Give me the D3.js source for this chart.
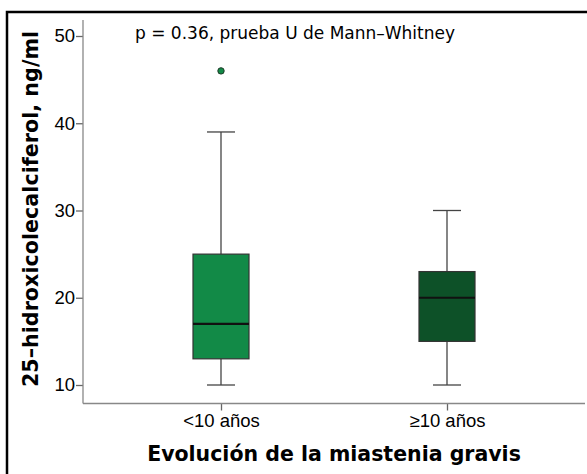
<!DOCTYPE html>
<html>
<head>
<meta charset="utf-8">
<script src="https://cdn.jsdelivr.net/npm/d3@7"></script>
<style>
  html, body { margin: 0; padding: 0; background: #fff; overflow: hidden; }
  svg { display: block; }
</style>
</head>
<body>
<svg id="chart" width="587" height="474"></svg>
<script>
// groups and their box statistics
let groups = ['<10 años', '≥10 años'];
let whiskerLow = [10, 10];
let q1 = [13, 15];
let medians = [17, 20];
let q3 = [25, 23];
let whiskerHigh = [39, 30];
let outliers = [[46], []];
let boxColors = ['#128a47', '#0d5128'];
let yTicks = [10, 20, 30, 40, 50];

let svg = d3.select('#chart');

svg.append('rect')
  .attr('width', 587).attr('height', 474)
  .attr('fill', '#fff');

// outer frame: only the left and top edges are inside the picture
svg.append('path')
  .attr('d', d3.line()([[7, 474], [7, 12], [587, 12]]))
  .attr('fill', 'none')
  .attr('stroke', '#000')
  .attr('stroke-width', 2.5);

let plotLeft = 83, plotRight = 585, plotTop = 20, plotBottom = 403.5;

let y = d3.scaleLinear().domain([10, 50]).range([385, 36]);
let x = d3.scalePoint().domain(groups).range([221, 447]);

let boxW = 56, capW = 28;

// y axis
let yAxis = svg.append('g')
  .attr('transform', 'translate(' + plotLeft + ',0)')
  .call(d3.axisLeft(y).tickValues(yTicks).tickSize(7).tickPadding(1));
yAxis.select('.domain').remove();
yAxis.append('line')
  .attr('y1', plotTop).attr('y2', plotBottom)
  .attr('stroke', '#888').attr('stroke-width', 1.3);

// x axis
let xAxis = svg.append('g')
  .attr('transform', 'translate(0,' + plotBottom + ')')
  .call(d3.axisBottom(x).tickSize(7).tickPadding(3));
xAxis.select('.domain').remove();
xAxis.append('line')
  .attr('x1', plotLeft).attr('x2', plotRight)
  .attr('stroke', '#888').attr('stroke-width', 1.3);

svg.selectAll('.tick line').attr('stroke', '#666').attr('stroke-width', 1.3);
svg.selectAll('.tick text')
  .attr('fill', '#000')
  .style('font-family', '"Liberation Sans", Arial, sans-serif')
  .style('font-size', '18.5px');

// boxes
let stats = groups.map(function(g, i) {
  return { g: g, lo: whiskerLow[i], q1: q1[i], med: medians[i], q3: q3[i], hi: whiskerHigh[i], out: outliers[i], c: boxColors[i] };
});

let b = svg.selectAll('g.box')
  .data(stats)
  .enter()
  .append('g')
  .attr('class', 'box');

// whiskers
b.append('line')
  .attr('x1', d => x(d.g)).attr('x2', d => x(d.g))
  .attr('y1', d => y(d.hi)).attr('y2', d => y(d.q3))
  .attr('stroke', '#444').attr('stroke-width', 1.3);
b.append('line')
  .attr('x1', d => x(d.g)).attr('x2', d => x(d.g))
  .attr('y1', d => y(d.q1)).attr('y2', d => y(d.lo))
  .attr('stroke', '#444').attr('stroke-width', 1.3);
b.append('line')
  .attr('x1', d => x(d.g) - capW / 2).attr('x2', d => x(d.g) + capW / 2)
  .attr('y1', d => y(d.hi)).attr('y2', d => y(d.hi))
  .attr('stroke', '#444').attr('stroke-width', 1.3);
b.append('line')
  .attr('x1', d => x(d.g) - capW / 2).attr('x2', d => x(d.g) + capW / 2)
  .attr('y1', d => y(d.lo)).attr('y2', d => y(d.lo))
  .attr('stroke', '#444').attr('stroke-width', 1.3);

b.append('rect')
  .attr('x', d => x(d.g) - boxW / 2)
  .attr('y', d => y(d.q3))
  .attr('width', boxW)
  .attr('height', d => y(d.q1) - y(d.q3))
  .attr('fill', d => d.c)
  .attr('stroke', '#333').attr('stroke-width', 1.2);

b.append('line')
  .attr('x1', d => x(d.g) - boxW / 2).attr('x2', d => x(d.g) + boxW / 2)
  .attr('y1', d => y(d.med)).attr('y2', d => y(d.med))
  .attr('stroke', '#111').attr('stroke-width', 2.2);

b.selectAll('circle')
  .data(d => d.out.map(v => ({ g: d.g, v: v, c: d.c })))
  .enter()
  .append('circle')
  .attr('cx', d => x(d.g))
  .attr('cy', d => y(d.v))
  .attr('r', 3.2)
  .attr('fill', d => d.c)
  .attr('stroke', '#1f3a28').attr('stroke-width', 1);

// annotation
svg.append('text')
  .attr('x', 135).attr('y', 39)
  .style('font-family', '"DejaVu Sans", sans-serif')
  .style('font-size', '17px')
  .text('p = 0.36, prueba U de Mann–Whitney');

// axis titles
svg.append('text')
  .attr('transform', 'translate(38,' + 209 + ') rotate(-90)')
  .attr('text-anchor', 'middle')
  .style('font-family', '"DejaVu Sans", sans-serif')
  .style('font-weight', 'bold')
  .style('font-size', '20.7px')
  .text('25–hidroxicolecalciferol, ng/ml');

svg.append('text')
  .attr('x', 334).attr('y', 461)
  .attr('text-anchor', 'middle')
  .style('font-family', '"DejaVu Sans", sans-serif')
  .style('font-weight', 'bold')
  .style('font-size', '20.5px')
  .text('Evolución de la miastenia gravis');
</script>
</body>
</html>
